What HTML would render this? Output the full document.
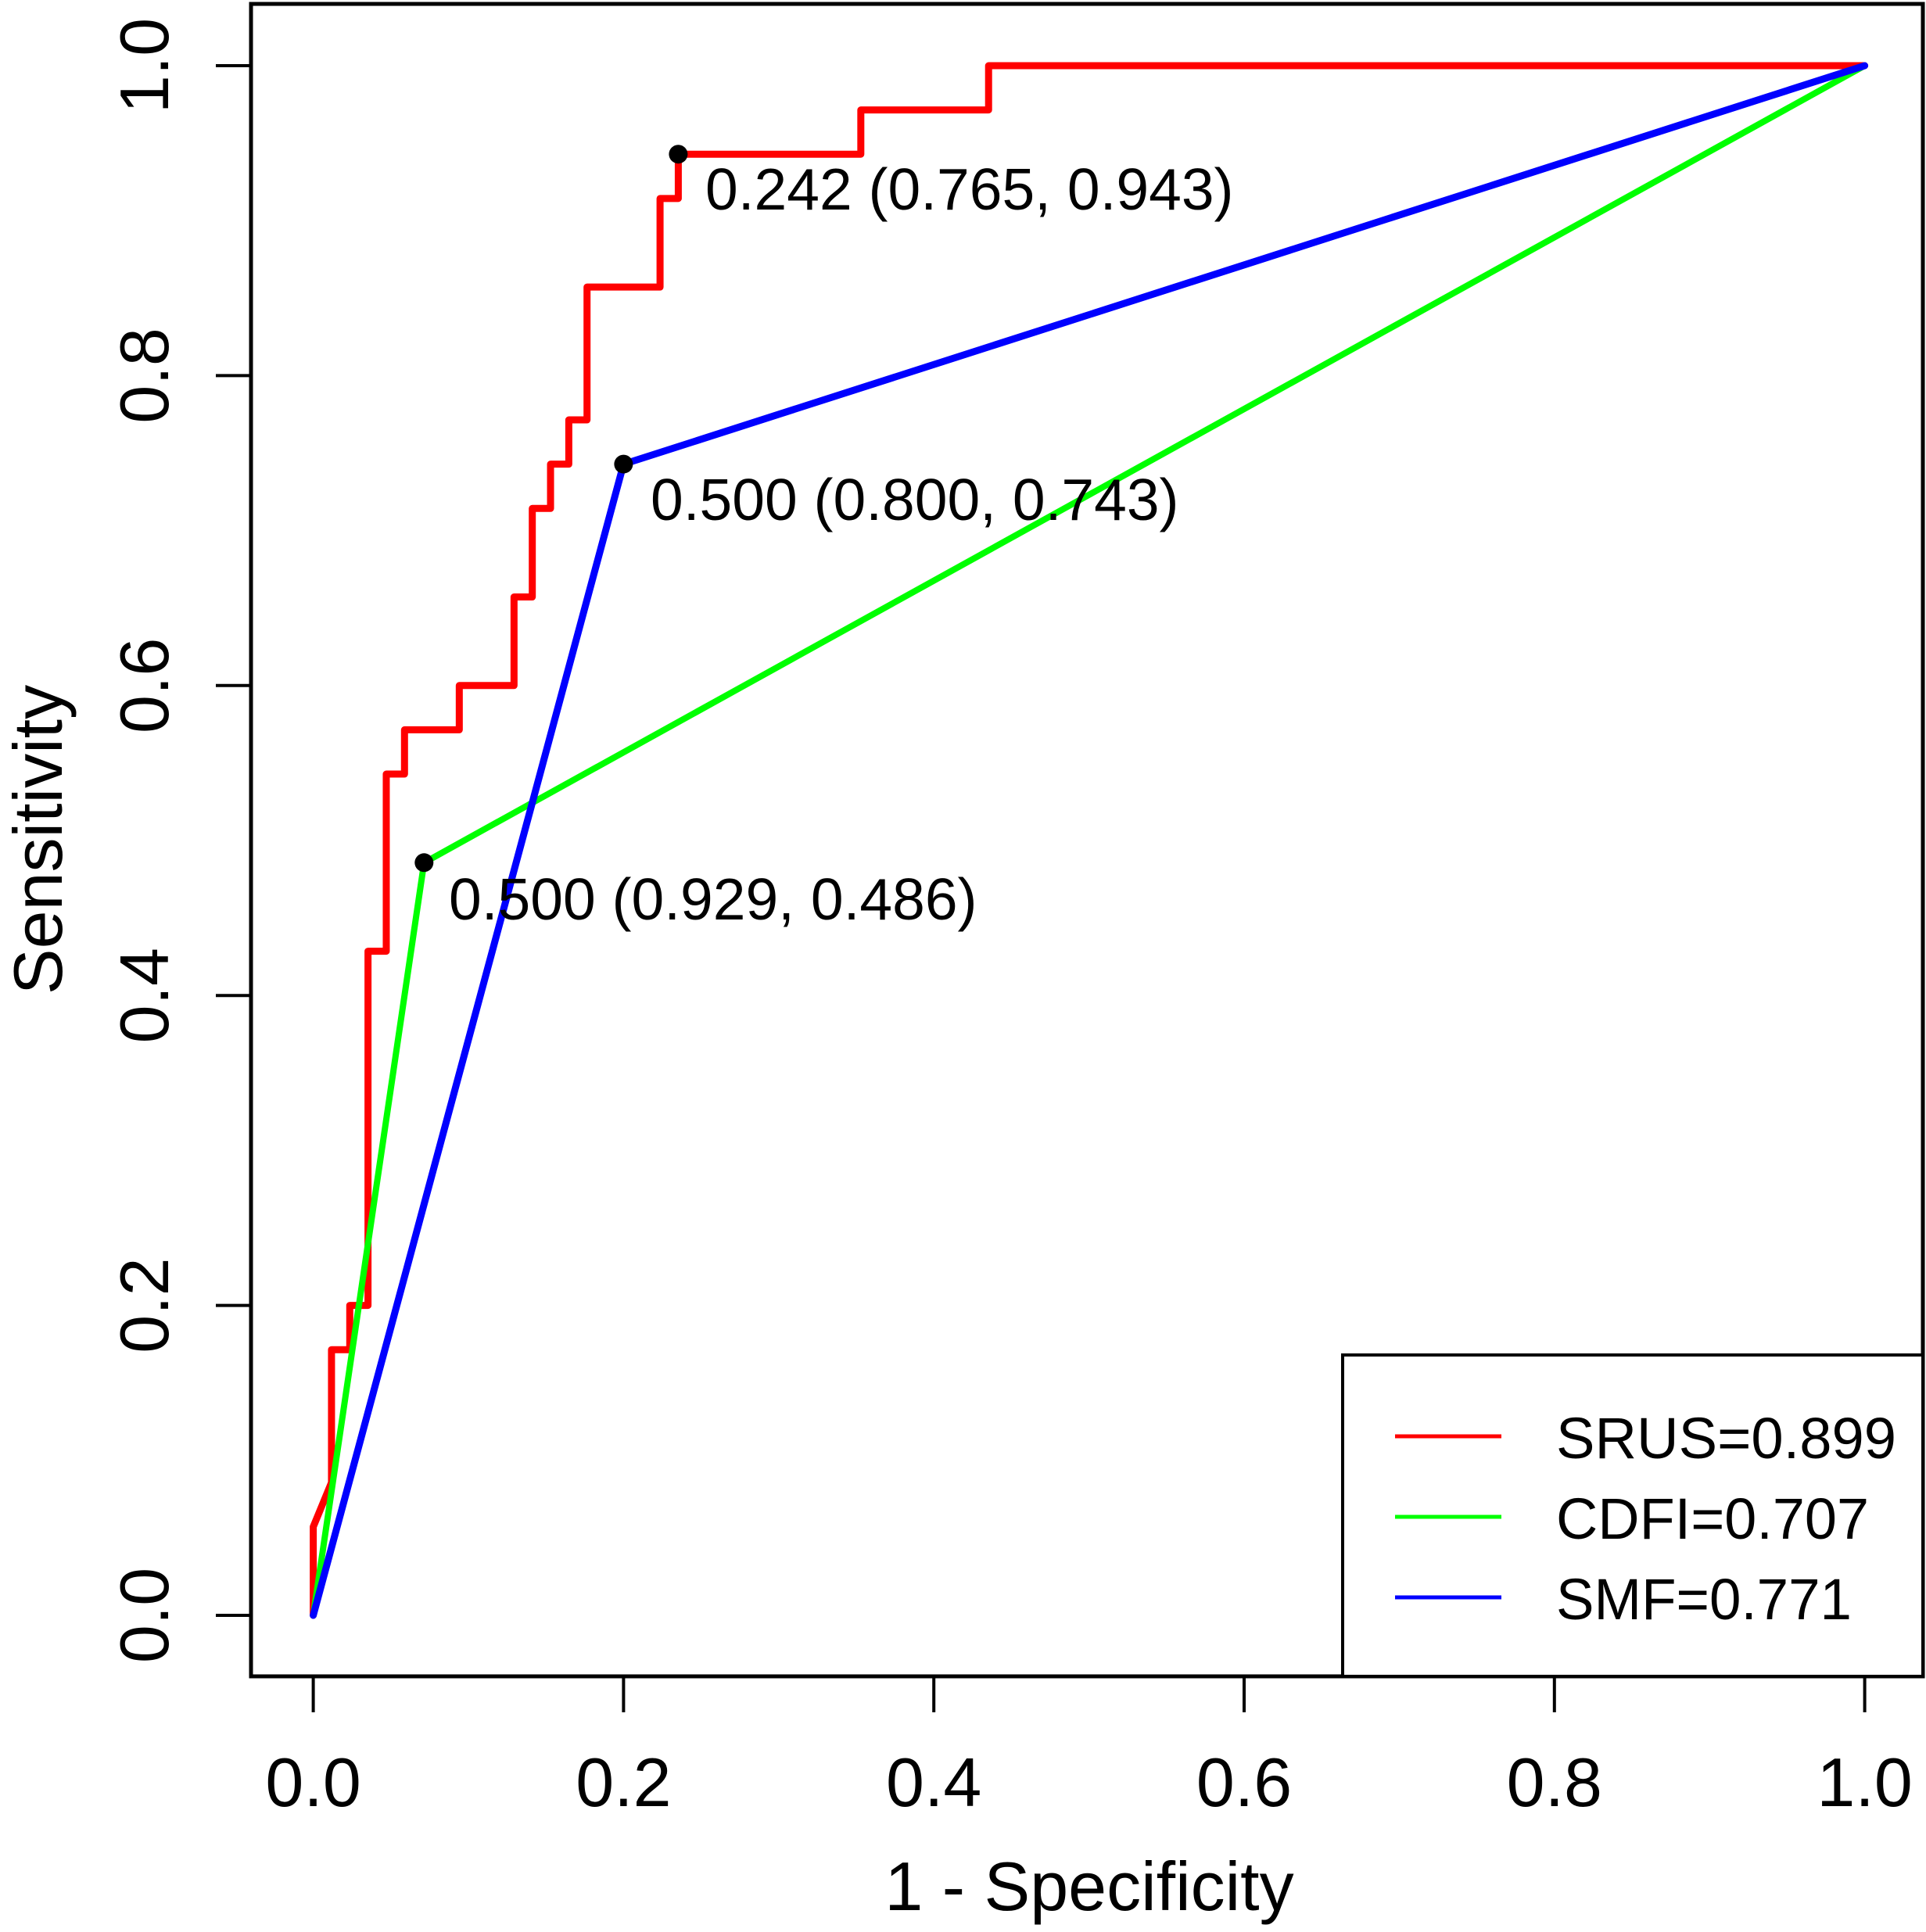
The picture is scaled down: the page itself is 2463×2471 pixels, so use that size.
<!DOCTYPE html>
<html><head><meta charset="utf-8"><style>html,body{margin:0;padding:0;background:#fff}svg{display:block}</style></head>
<body>
<svg width="2463" height="2471" viewBox="0 0 2463 2471" xmlns="http://www.w3.org/2000/svg" font-family="Liberation Sans, Arial, sans-serif">
<rect width="2463" height="2471" fill="#fff"/>
<g transform="translate(400.6,2066) scale(1984,-1982)" fill="none" stroke-linejoin="round" stroke-linecap="round">
<polyline vector-effect="non-scaling-stroke" stroke="#ff0000" stroke-width="9" points="0,0 0,.05714 .01176,.08571 .01176,.17143 .02353,.17143 .02353,.2 .03529,.2 .03529,.42857 .04706,.42857 .04706,.54286 .05882,.54286 .05882,.57143 .09412,.57143 .09412,.6 .12941,.6 .12941,.65714 .14118,.65714 .14118,.71429 .15294,.71429 .15294,.74286 .16471,.74286 .16471,.77143 .17647,.77143 .17647,.85714 .22353,.85714 .22353,.91429 .23529,.91429 .23529,.94286 .35294,.94286 .35294,.97143 .43529,.97143 .43529,1 1,1"/>
<polyline vector-effect="non-scaling-stroke" stroke="#00ff00" stroke-width="8" points="0,0 .07143,.48571 1,1"/>
<polyline vector-effect="non-scaling-stroke" stroke="#0000ff" stroke-width="9" points="0,0 .2,.74286 1,1"/>
</g>
<circle cx="867.4" cy="197.2" r="12" fill="#000"/>
<circle cx="797.4" cy="593.6" r="12" fill="#000"/>
<circle cx="542.3" cy="1103.3" r="12" fill="#000"/>
<g font-size="75" fill="#000">
<text x="902" y="268">0.242 (0.765, 0.943)</text>
<text x="832" y="665">0.500 (0.800, 0.743)</text>
<text x="574" y="1176">0.500 (0.929, 0.486)</text>
</g>
<rect x="321" y="5" width="2138" height="2139" fill="none" stroke="#000" stroke-width="5"/>
<g stroke="#000" stroke-width="4">
<line x1="276" y1="84" x2="321" y2="84"/><line x1="276" y1="480.4" x2="321" y2="480.4"/><line x1="276" y1="876.8" x2="321" y2="876.8"/><line x1="276" y1="1273.2" x2="321" y2="1273.2"/><line x1="276" y1="1669.6" x2="321" y2="1669.6"/><line x1="276" y1="2066" x2="321" y2="2066"/>
<line x1="400.6" y1="2144" x2="400.6" y2="2190"/><line x1="797.4" y1="2144" x2="797.4" y2="2190"/><line x1="1194.2" y1="2144" x2="1194.2" y2="2190"/><line x1="1591" y1="2144" x2="1591" y2="2190"/><line x1="1987.8" y1="2144" x2="1987.8" y2="2190"/><line x1="2384.6" y1="2144" x2="2384.6" y2="2190"/>
</g>
<g font-size="88" text-anchor="middle" fill="#000">
<text x="400.6" y="2310">0.0</text><text x="797.4" y="2310">0.2</text><text x="1194.2" y="2310">0.4</text><text x="1591" y="2310">0.6</text><text x="1987.8" y="2310">0.8</text><text x="2384.6" y="2310">1.0</text>
<g transform="translate(215,0)">
<text transform="translate(0,84) rotate(-90)">1.0</text>
<text transform="translate(0,480.4) rotate(-90)">0.8</text>
<text transform="translate(0,876.8) rotate(-90)">0.6</text>
<text transform="translate(0,1273.2) rotate(-90)">0.4</text>
<text transform="translate(0,1669.6) rotate(-90)">0.2</text>
<text transform="translate(0,2066) rotate(-90)">0.0</text>
</g>
<text x="1393" y="2443">1 - Specificity</text>
<text transform="translate(79,1074) rotate(-90)">Sensitivity</text>
</g>
<rect x="1717" y="1733" width="742" height="411" fill="#fff" stroke="#000" stroke-width="4"/>
<g stroke-width="5">
<line x1="1784" y1="1837" x2="1920" y2="1837" stroke="#ff0000"/>
<line x1="1784" y1="1940" x2="1920" y2="1940" stroke="#00ff00"/>
<line x1="1784" y1="2043" x2="1920" y2="2043" stroke="#0000ff"/>
</g>
<g font-size="74" fill="#000">
<text x="1990" y="1865" textLength="435" lengthAdjust="spacingAndGlyphs">SRUS=0.899</text>
<text x="1990" y="1968" textLength="400" lengthAdjust="spacingAndGlyphs">CDFI=0.707</text>
<text x="1990" y="2071" textLength="378" lengthAdjust="spacingAndGlyphs">SMF=0.771</text>
</g>
</svg>
</body></html>
